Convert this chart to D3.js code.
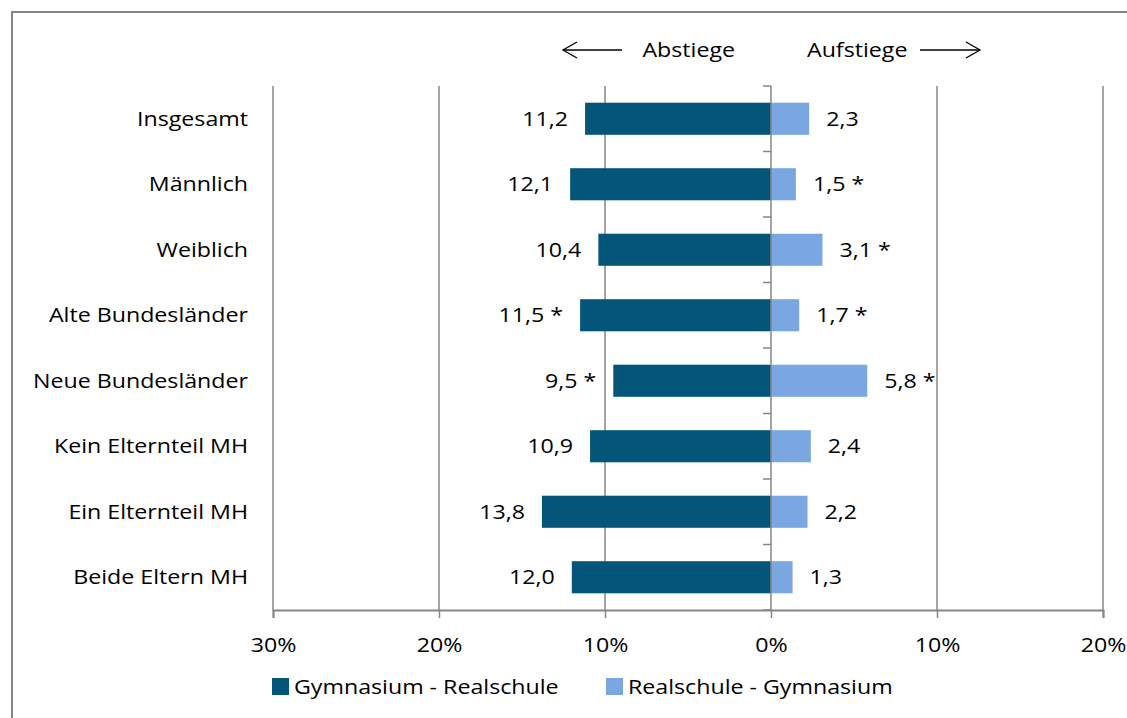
<!DOCTYPE html>
<html><head><meta charset="utf-8">
<script src="https://cdn.jsdelivr.net/npm/d3@7"></script>
<style>body{margin:0;background:#fff}svg{display:block}text{font-family:"Open Sans",sans-serif;fill:#000}</style>
</head><body><svg id="c" width="1127" height="718"></svg>
<script>
const categories = ["Insgesamt","Männlich","Weiblich","Alte Bundesländer","Neue Bundesländer","Kein Elternteil MH","Ein Elternteil MH","Beide Eltern MH"];
const abstiege = [11.2, 12.1, 10.4, 11.5, 9.5, 10.9, 13.8, 12.0];
const aufstiege = [2.3, 1.5, 3.1, 1.7, 5.8, 2.4, 2.2, 1.3];
const abstiegeSig = [false, false, false, true, true, false, false, false];
const aufstiegeSig = [false, true, true, true, true, false, false, false];
const tickValues = [-30, -20, -10, 0, 10, 20];
const seriesNames = ["Gymnasium - Realschule", "Realschule - Gymnasium"];
const colors = ["#03567a", "#7aa7e1"];

const svg = d3.select("#c");
const grid = "#868686";
const fs = 20;
const sx = 1.16; // horizontal glyph stretch to mimic the reference font proportions

function label(g, x, y, txt, anchor) {
  return g.append("text").attr("transform", `translate(${x},${y}) scale(${sx},1)`)
    .attr("dy", "0.35em").attr("text-anchor", anchor).attr("font-size", fs).text(txt);
}

// outer border
svg.append("path").attr("d","M12,718 L12,12 L1127,12").attr("fill","none").attr("stroke",grid).attr("stroke-width",2);

const x = d3.scaleLinear().domain([-30, 20]).range([273, 1103]);
const y = d3.scaleBand().domain(categories).range([86, 610]).paddingInner(0.51).paddingOuter(0.255);
const fmt = v => v.toFixed(1).replace(".", ",");

// gridlines
svg.append("g").selectAll("line").data(tickValues.filter(d => d !== 0)).join("line")
  .attr("x1", d => x(d)).attr("x2", d => x(d)).attr("y1", 86).attr("y2", 610)
  .attr("stroke", grid).attr("stroke-width", 1.5);

// bars
svg.append("g").selectAll("rect").data(categories).join("rect")
  .attr("x", (d,i) => x(-abstiege[i])).attr("width", (d,i) => x(0) - x(-abstiege[i]))
  .attr("y", d => y(d)).attr("height", y.bandwidth()).attr("fill", colors[0]);
svg.append("g").selectAll("rect").data(categories).join("rect")
  .attr("x", x(0)).attr("width", (d,i) => x(aufstiege[i]) - x(0))
  .attr("y", d => y(d)).attr("height", y.bandwidth()).attr("fill", colors[1]);

// zero axis with ticks to the left
svg.append("line").attr("x1", x(0)).attr("x2", x(0)).attr("y1", 86).attr("y2", 610).attr("stroke", grid).attr("stroke-width", 1.5);
svg.append("g").selectAll("line").data(d3.range(categories.length + 1)).join("line")
  .attr("x1", x(0) - 8).attr("x2", x(0)).attr("y1", i => 86 + i * y.step()).attr("y2", i => 86 + i * y.step())
  .attr("stroke", grid).attr("stroke-width", 1.5);

// bottom axis
const xAxis = svg.append("g").attr("transform", "translate(0,610)")
  .call(d3.axisBottom(x).tickValues(tickValues).tickSize(8).tickPadding(20).tickFormat(d => Math.abs(d) + "%"));
xAxis.select(".domain").attr("stroke", grid).attr("stroke-width", 2);
xAxis.selectAll(".tick line").attr("stroke", grid).attr("stroke-width", 1.5);
xAxis.selectAll(".tick text").attr("font-size", fs).attr("font-family", '"Open Sans",sans-serif').attr("fill", "#000")
  .attr("dy", "0.71em").attr("transform", `scale(${sx},1)`);

// category labels
const cg = svg.append("g");
categories.forEach(c => label(cg, 248, y(c) + y.bandwidth() / 2, c, "end"));

// value labels
const vg = svg.append("g");
categories.forEach((c, i) => {
  const cy = y(c) + y.bandwidth() / 2;
  label(vg, x(-abstiege[i]) - 17, cy, fmt(abstiege[i]) + (abstiegeSig[i] ? " *" : ""), "end");
  label(vg, x(aufstiege[i]) + 17, cy, fmt(aufstiege[i]) + (aufstiegeSig[i] ? " *" : ""), "start");
});

// direction header
const hy = 50;
label(svg, 735, hy, "Abstiege", "end");
label(svg, 807, hy, "Aufstiege", "start");
const arrow = (x1, x2, dir) => {
  svg.append("line").attr("x1", x1).attr("x2", x2).attr("y1", hy).attr("y2", hy).attr("stroke", "#000").attr("stroke-width", 1.3);
  const tip = dir < 0 ? x1 : x2;
  svg.append("path").attr("d", `M${tip - dir * 14},${hy - 8} L${tip},${hy} L${tip - dir * 14},${hy + 8}`)
    .attr("fill", "none").attr("stroke", "#000").attr("stroke-width", 1.3);
};
arrow(563, 622, -1);
arrow(920, 980, 1);

// legend
const lg = svg.append("g");
const legendX = [272, 606];
seriesNames.forEach((n, i) => {
  lg.append("rect").attr("x", legendX[i]).attr("y", 678).attr("width", 17).attr("height", 17).attr("fill", colors[i]);
  label(lg, legendX[i] + 22, 687, n, "start");
});
</script></body></html>
